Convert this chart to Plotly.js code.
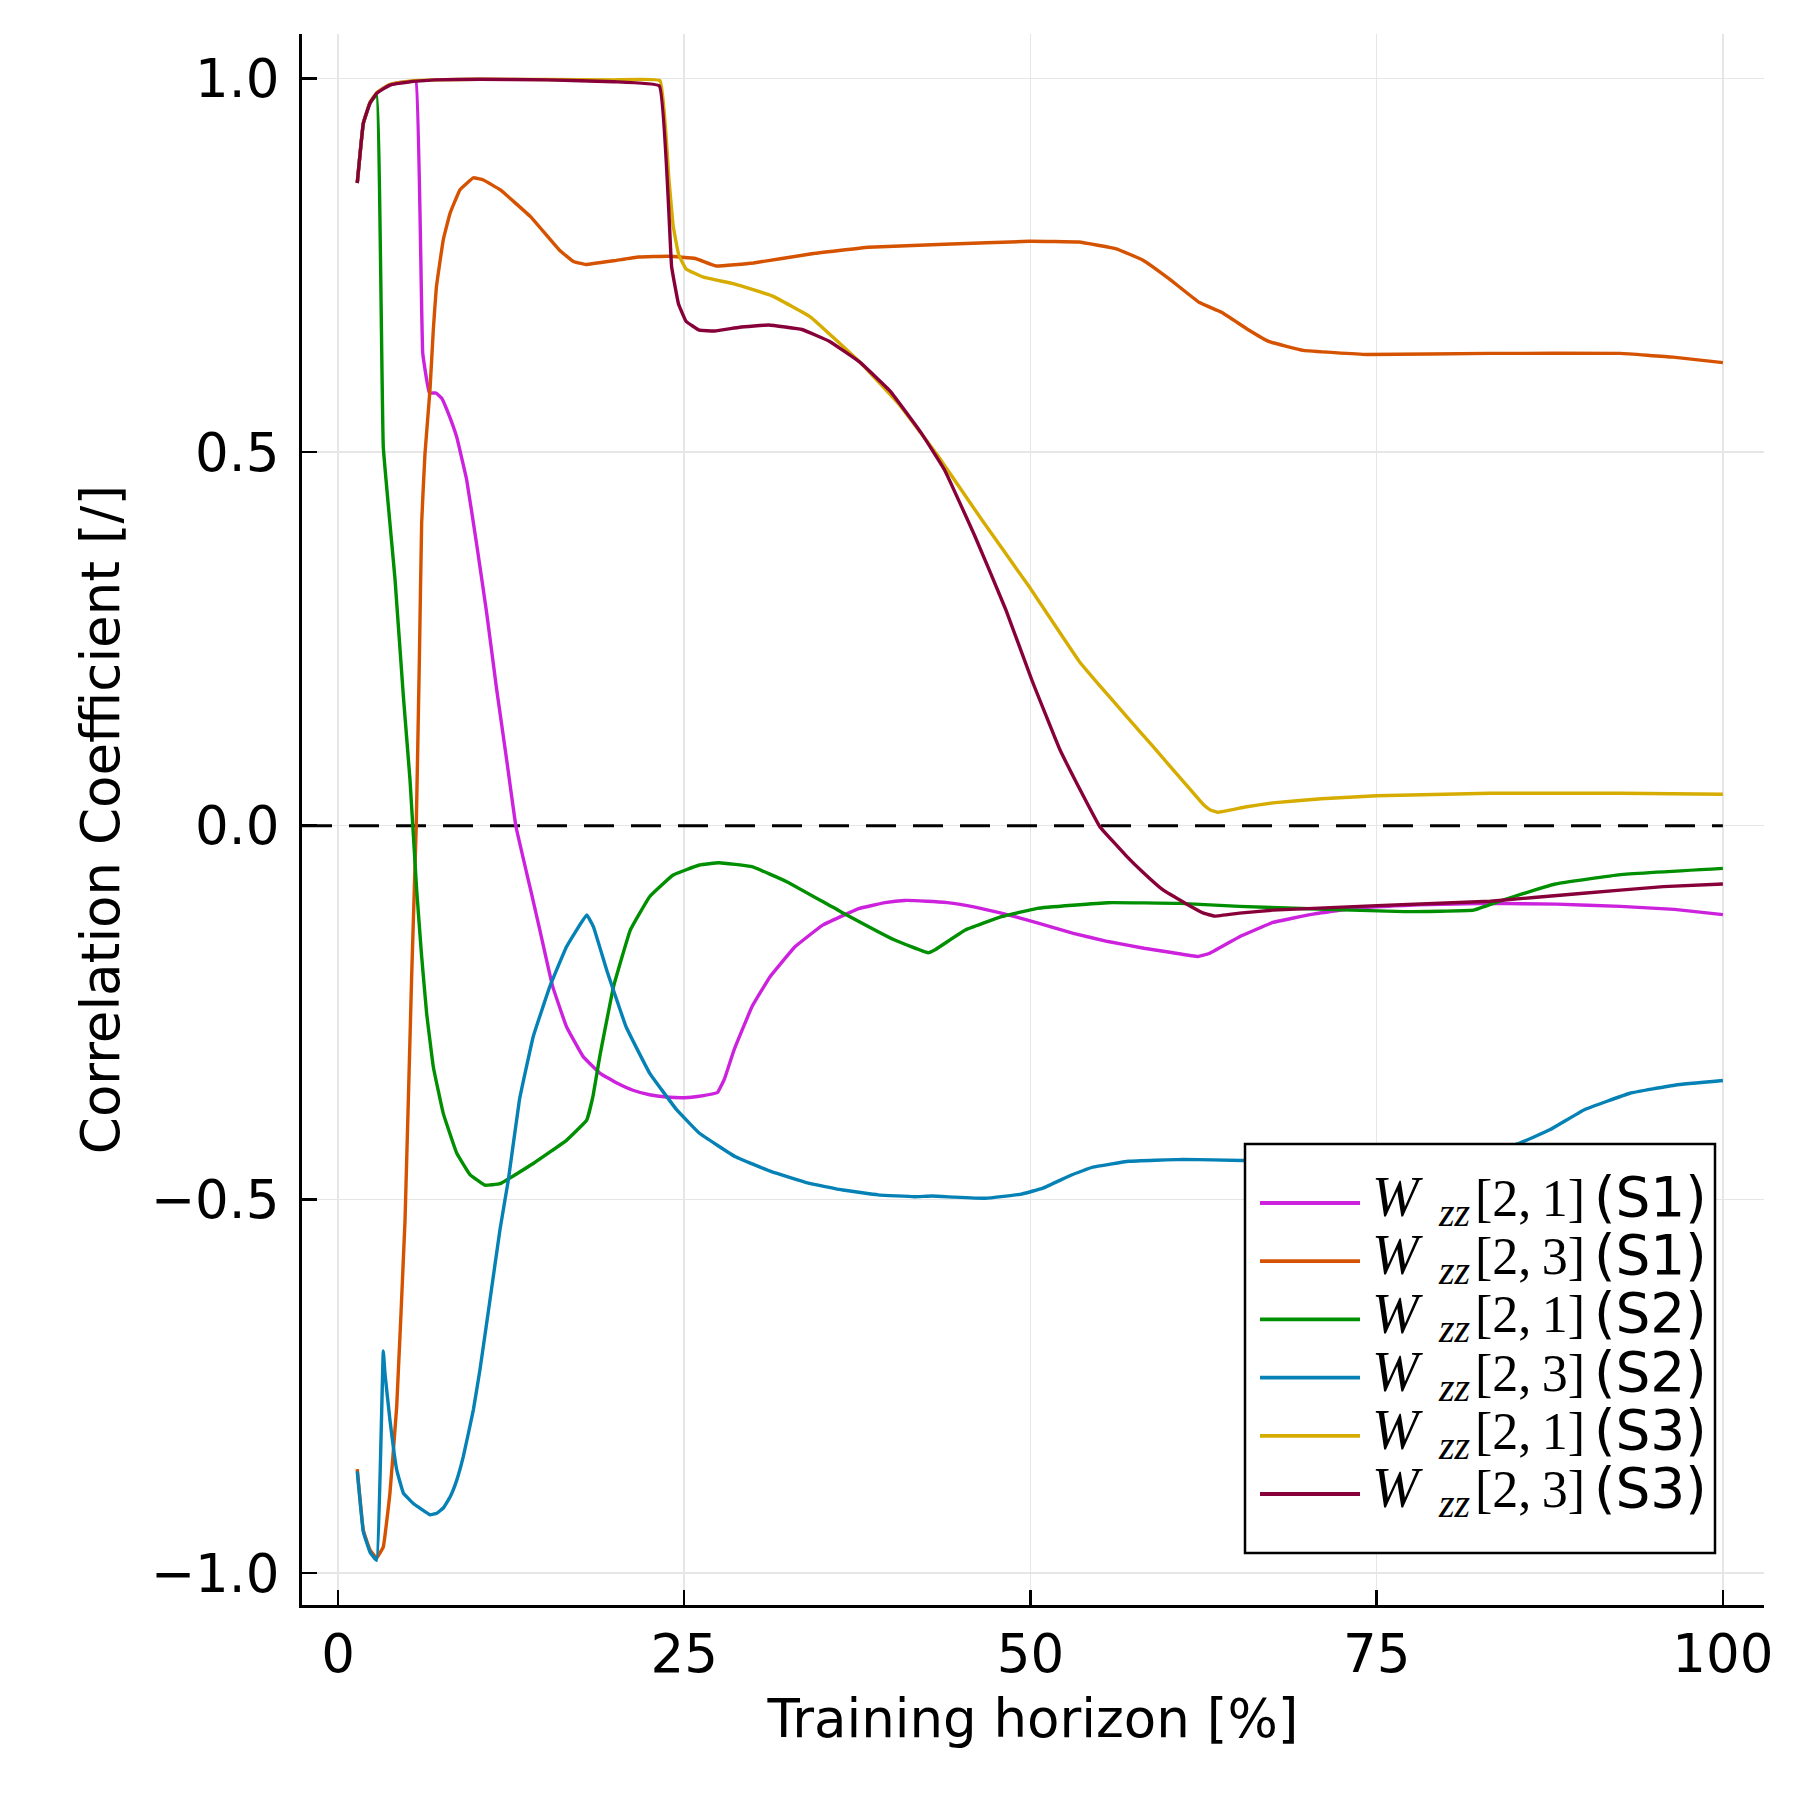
<!DOCTYPE html>
<html>
<head>
<meta charset="utf-8">
<script src="https://cdn.plot.ly/plotly-3.0.1.min.js"></script>
<style>html,body{margin:0;padding:0;background:#fff;}</style>
</head>
<body>
<div id="chart" style="width:1799px;height:1799px;"></div>
<script>
// ---- data ----
const s1_21_x = [1.39,1.83,2.31,2.79,3.27,3.75,4.24,4.72,5.2,5.63,6.12,6.6,7.07,7.49,7.96,8.57,9.29,10.0,10.74,11.46,12.18,12.85,13.86,14.58,15.5,16.5,17.7,18.9,20.1,21.3,22.5,23.7,25.0,26.1,27.4,27.9,28.6,29.9,31.2,33.0,35.0,37.6,39.5,40.9,42.5,44.0,46.0,47.9,50.5,53.1,55.6,58.2,60.3,62.1,62.9,65.1,67.5,70.5,73.7,78,83.2,88,92.6,96.5,100];
const s1_21_y = [0.860,0.940,0.967,0.980,0.987,0.991,0.994,0.995,0.996,0.996,0.632,0.579,0.579,0.572,0.552,0.520,0.463,0.378,0.284,0.182,0.088,-0.001,-0.082,-0.140,-0.215,-0.269,-0.309,-0.331,-0.344,-0.354,-0.360,-0.363,-0.364,-0.362,-0.357,-0.339,-0.300,-0.242,-0.202,-0.162,-0.133,-0.111,-0.103,-0.100,-0.101,-0.103,-0.109,-0.117,-0.130,-0.144,-0.155,-0.164,-0.170,-0.175,-0.171,-0.1485,-0.1295,-0.118,-0.110,-0.106,-0.104,-0.105,-0.108,-0.112,-0.119];

const s1_23_x = [1.39,1.83,2.31,2.79,3.27,3.75,4.24,4.84,5.32,5.65,5.87,6.04,6.28,6.64,6.88,7.1,7.6,8.1,8.81,9.77,10.5,11.7,13.9,16.0,17.0,17.9,19.9,21.7,23.9,25.8,27.3,30.0,34.1,38.3,43.8,49.9,53.5,56.2,58.1,60.0,62.2,63.8,65.7,67.2,69.7,74.3,83.2,92.6,96.4,100];
const s1_23_y = [-0.861,-0.943,-0.969,-0.980,-0.965,-0.893,-0.777,-0.528,-0.200,0.000,0.217,0.405,0.498,0.583,0.663,0.720,0.784,0.820,0.851,0.867,0.864,0.851,0.815,0.770,0.755,0.751,0.756,0.761,0.762,0.759,0.749,0.753,0.765,0.774,0.778,0.782,0.781,0.772,0.757,0.732,0.700,0.687,0.664,0.648,0.636,0.6305,0.632,0.632,0.627,0.6196];

const s2_21_x = [1.39,1.83,2.31,2.79,3.27,4.12,4.72,5.2,5.68,6.04,6.4,6.88,7.6,8.57,9.53,10.6,11.7,14.1,16.5,17.96,18.4,18.9,19.9,21.1,22.5,24.2,26.1,27.5,29.9,32.4,36.3,40.2,42.6,43.15,45.3,47.9,50.5,55.6,60.8,65.1,70.7,77,82.0,83.9,87.9,92.6,100];
const s2_21_y = [0.860,0.940,0.967,0.978,0.507,0.329,0.173,0.061,-0.086,-0.175,-0.251,-0.3225,-0.385,-0.438,-0.467,-0.481,-0.479,-0.452,-0.421,-0.394,-0.363,-0.309,-0.215,-0.140,-0.095,-0.066,-0.0526,-0.0495,-0.0549,-0.0749,-0.115,-0.153,-0.170,-0.1655,-0.1396,-0.1218,-0.1106,-0.103,-0.104,-0.108,-0.1115,-0.115,-0.113,-0.101,-0.078,-0.0654,-0.0571];

const s2_23_x = [1.39,1.83,2.31,2.79,3.27,3.39,3.75,4.24,4.72,5.44,6.64,7.13,7.6,8.1,8.57,9.05,9.77,10.25,10.97,11.7,12.3,13.1,14.1,15.3,16.5,17.96,18.44,19.4,20.8,22.5,24.45,26.1,28.7,31.3,33.9,36.45,39.0,41.6,42.9,44.5,46.75,49.35,50.9,52.96,54.5,57.1,61.0,65.3,70,75,80,83,85.3,87.5,90,93.3,96.6,100];
const s2_23_y = [-0.864,-0.945,-0.972,-0.983,-0.703,-0.733,-0.795,-0.862,-0.893,-0.907,-0.922,-0.920,-0.913,-0.898,-0.876,-0.844,-0.782,-0.728,-0.635,-0.540,-0.474,-0.367,-0.282,-0.215,-0.162,-0.1195,-0.135,-0.193,-0.269,-0.331,-0.380,-0.4116,-0.443,-0.463,-0.478,-0.4875,-0.494,-0.4965,-0.4955,-0.497,-0.4986,-0.493,-0.485,-0.4674,-0.457,-0.449,-0.4465,-0.448,-0.449,-0.449,-0.446,-0.437,-0.425,-0.407,-0.380,-0.358,-0.347,-0.341];

const s3_21_x = [1.39,1.83,2.31,2.79,3.27,3.75,4.24,5.44,7.0,10.25,15.1,19.9,23.25,23.9,24.2,24.6,25.13,26.4,28.6,31.35,34.1,37.7,40.5,43.2,46.5,49.9,53.5,55.0,57.0,58.8,61.0,62.5,63.0,63.5,65.5,67.5,71,75,83.2,92.6,100];
const s3_21_y = [0.860,0.940,0.968,0.981,0.987,0.992,0.994,0.997,0.998,0.9988,0.9985,0.998,0.997,0.864,0.803,0.764,0.745,0.734,0.725,0.709,0.681,0.620,0.564,0.498,0.409,0.320,0.2205,0.1875,0.145,0.107,0.060,0.028,0.021,0.018,0.025,0.0305,0.036,0.040,0.0434,0.0434,0.042];

const s3_23_x = [1.39,1.83,2.31,2.79,3.27,3.75,4.24,5.44,7.0,10.25,15.1,19.9,23.2,24.09,24.59,25.13,26.1,27.2,29.0,31.1,33.5,35.5,37.7,39.9,42.1,43.8,46.0,48.2,50.1,52.1,53.7,55.0,56.9,58.2,59.5,61.3,62.5,63.3,65.1,67.5,75,83.2,89.5,95.7,100];
const s3_23_y = [0.860,0.940,0.967,0.980,0.986,0.991,0.993,0.996,0.998,0.9988,0.998,0.9956,0.990,0.748,0.698,0.675,0.663,0.662,0.667,0.670,0.664,0.648,0.620,0.581,0.526,0.476,0.387,0.290,0.195,0.103,0.044,-0.001,-0.040,-0.0637,-0.085,-0.105,-0.117,-0.121,-0.117,-0.113,-0.107,-0.101,-0.091,-0.0815,-0.078];

const zeroX = [-2.6, 100];
const zeroY = [0, 0];

const symbolMain = "W";
const symbolSub = "zz";
const entries = ["[2,\u20091]", "[2,\u20093]", "[2,\u20091]", "[2,\u20093]", "[2,\u20091]", "[2,\u20093]"];
const scenarios = ["(S1)", "(S1)", "(S2)", "(S2)", "(S3)", "(S3)"];
const colors = ["#CC22DD", "#D55300", "#008F00", "#0581B5", "#D6AC00", "#880039"];
const xs = [s1_21_x, s1_23_x, s2_21_x, s2_23_x, s3_21_x, s3_23_x];
const ys = [s1_21_y, s1_23_y, s2_21_y, s2_23_y, s3_21_y, s3_23_y];

const xTicks = [0, 25, 50, 75, 100];
const yTicks = [-1.0, -0.5, 0.0, 0.5, 1.0];

const traces = [{
  x: zeroX, y: zeroY, mode: 'lines', showlegend: false, hoverinfo: 'skip',
  line: {color: '#000000', width: 3, dash: '30px,17px'}
}];
for (let i = 0; i < xs.length; i++) {
  traces.push({
    x: xs[i], y: ys[i], mode: 'lines',
    name: symbolMain + '_' + symbolSub + entries[i] + ' ' + scenarios[i],
    showlegend: false,
    line: {color: colors[i], width: 3.4, shape: 'spline', smoothing: 0.25}
  });
}

// legend drawn as a framed box with sample lines and text labels
const plotL = 302, plotR = 1764, plotT = 34, plotB = 1605;
const px2x = p => (p - plotL) / (plotR - plotL);
const px2y = p => (plotB - p) / (plotB - plotT);
const shapes = [{
  type: 'rect', xref: 'paper', yref: 'paper', layer: 'above',
  x0: px2x(1245), x1: px2x(1715), y0: px2y(1553), y1: px2y(1144),
  fillcolor: '#ffffff', line: {color: '#000000', width: 2.5}
}];
const annotations = [];
function addText(text, xLeft, yCenter, family, size, style) {
  annotations.push({
    xref: 'paper', yref: 'paper', x: px2x(xLeft), y: px2y(yCenter),
    xanchor: 'left', yanchor: 'middle', showarrow: false, text: text,
    borderpad: 0,
    font: {family: family, size: size, color: '#000000', style: style}
  });
}
for (let i = 0; i < xs.length; i++) {
  const lineY = 1203 + i * 58.2;
  const base = 1216 + i * 58.2;
  shapes.push({
    type: 'line', xref: 'paper', yref: 'paper', layer: 'above',
    x0: px2x(1260), x1: px2x(1360), y0: px2y(lineY), y1: px2y(lineY),
    line: {color: colors[i], width: 3.8}
  });
  addText(symbolMain, 1371, base - 0.3375 * 56, 'Liberation Serif', 56, 'italic');
  addText(symbolSub, 1437, base + 10 - 0.3375 * 40, 'Liberation Serif', 40, 'italic');
  addText(entries[i], 1474, base - 0.3375 * 52, 'Liberation Serif', 52, 'normal');
  addText(scenarios[i], 1593, base - 0.346 * 55, 'DejaVu Sans', 55, 'normal');
}

const font = {family: 'DejaVu Sans', size: 53, color: '#000000'};
const layout = {
  width: 1799, height: 1799,
  margin: {l: 302, r: 35, t: 34, b: 194, pad: 0},
  paper_bgcolor: '#ffffff', plot_bgcolor: '#ffffff',
  font: font,
  showlegend: false,
  xaxis: {
    range: [-2.6, 102.97], tickvals: xTicks, ticktext: xTicks.map(String),
    ticks: 'inside', ticklen: 15, tickwidth: 2.5, tickcolor: '#000',
    showline: true, linewidth: 3, linecolor: '#000', mirror: false,
    showgrid: true, gridcolor: '#e6e6e6', gridwidth: 1.5, zeroline: false,
    tickfont: font,
    title: {text: 'Training horizon [%]', font: font, standoff: 18}
  },
  yaxis: {
    range: [-1.0428, 1.0594], tickvals: yTicks, tickformat: '.1f',
    ticks: 'inside', ticklen: 15, tickwidth: 2.5, tickcolor: '#000',
    showline: true, linewidth: 3, linecolor: '#000', mirror: false,
    showgrid: true, gridcolor: '#e6e6e6', gridwidth: 1.5, zeroline: false,
    tickfont: font, ticklabelstandoff: 9,
    title: {text: 'Correlation Coefficient [/]', font: font, standoff: 15}
  },
  shapes: shapes,
  annotations: annotations
};

Plotly.newPlot('chart', traces, layout, {staticPlot: true, displayModeBar: false});
</script>
</body>
</html>
